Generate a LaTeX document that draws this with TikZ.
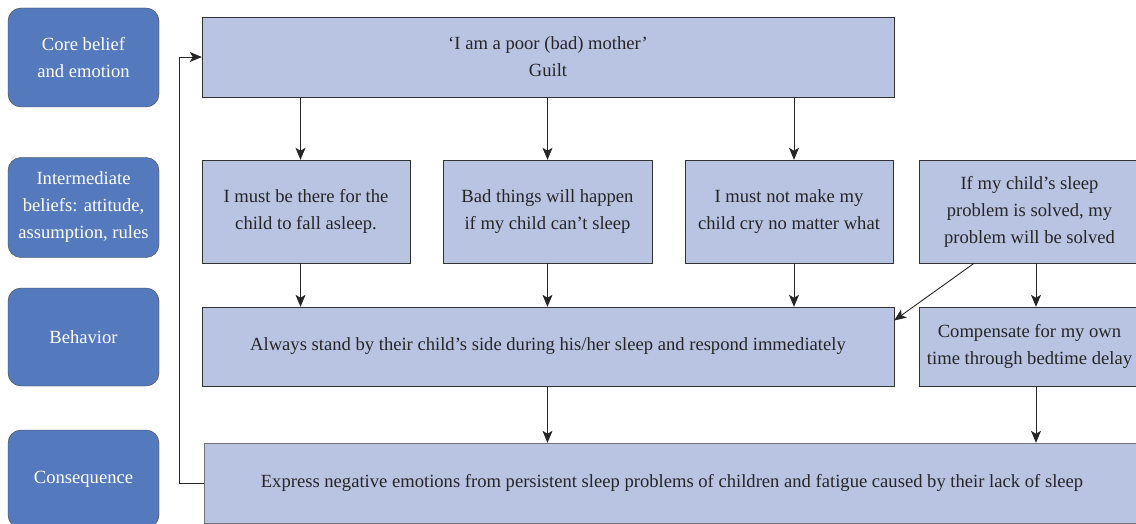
\documentclass[tikz,border=0pt]{standalone}
\usepackage{fontspec}
\setmainfont{Liberation Serif}
\usepackage{tikz}
\usetikzlibrary{positioning, arrows.meta, calc}

\definecolor{levelblue}{HTML}{5479BD}
\definecolor{boxlav}{HTML}{B9C3E2}

\begin{document}
\begin{tikzpicture}[x=1pt, y=-1pt,
level/.style={rectangle, draw=black!75, fill=levelblue, rounded corners=13pt, text=white, align=center, minimum width=151pt, minimum height=99pt, inner sep=2pt},
thought/.style={rectangle, draw=black!80, fill=boxlav, text=black!85, align=center, inner sep=2pt},
arr/.style={-{Stealth[length=12pt, width=10pt, inset=3pt]}, draw=black!85, line width=0.9pt},
font=\fontsize{18.6}{27}\selectfont]
    \useasboundingbox (0,0) rectangle (1136,524);

    % levels on the left
    \node[level] (core) at (83.5,57.5) {Core belief\\and emotion};
    \node[level, minimum height=100pt] (inter) at (83.5,207.5) {Intermediate\\beliefs: attitude,\\assumption, rules};
    \node[level, minimum height=98pt] (behav) at (83.5,337) {Behavior};
    \node[level, minimum height=98pt] (cons) at (83.5,479) {Consequence};

    % core belief
    \node[thought, minimum width=692pt, minimum height=80pt] (guilt) at (548,57) {`I am a poor (bad) mother'\\Guilt};

    % intermediate beliefs
    \node[thought, minimum width=208pt, minimum height=103pt] (there) at (306,211.5) {I must be there for the\\child to fall asleep.};
    \node[thought, minimum width=209pt, minimum height=103pt] (bad) at (547.5,211.5) {Bad things will happen\\if my child can't sleep};
    \node[thought, minimum width=208pt, minimum height=103pt] (cry) at (789,211.5) {I must not make my\\child cry no matter what};
    \node[thought, minimum width=221pt, minimum height=103pt] (solved) at (1029.5,211.5) {If my child's sleep\\problem is solved, my\\problem will be solved};

    % behavior
    \node[thought, minimum width=692pt, minimum height=79pt] (stand) at (548,346.5) {Always stand by their child's side during his/her sleep and respond immediately};
    \node[thought, minimum width=221pt, minimum height=79pt] (comp) at (1029.5,346.5) {Compensate for my own\\time through bedtime delay};

    % consequence
    \node[thought, draw=black!55, minimum width=936pt, minimum height=80pt] (neg) at (672,483) {Express negative emotions from persistent sleep problems of children and fatigue caused by their lack of sleep};

    \draw[arr] ([xshift=-5.5pt]guilt.south -| there.north) -- ([xshift=-5.5pt]there.north);
    \draw[arr] (guilt.south -| bad.north) -- (bad.north);
    \draw[arr] ([xshift=5pt]guilt.south -| cry.north) -- ([xshift=5pt]cry.north);

    \draw[arr] ([xshift=-5.5pt]there.south) -- ([xshift=-5.5pt]there.south |- stand.north);
    \draw[arr] (bad.south) -- (bad.south |- stand.north);
    \draw[arr] ([xshift=5pt]cry.south) -- ([xshift=5pt]cry.south |- stand.north);
    \draw[arr] ([xshift=6.5pt]solved.south) -- ([xshift=6.5pt]comp.north);
    \draw[arr] ($(solved.south west)!0.25!(solved.south east)$) -- ([yshift=26pt]stand.east);

    \draw[arr] (stand.south -| bad.south) -- (bad.south |- neg.north);
    \draw[arr] ([xshift=6.5pt]comp.south) -- ([xshift=6.5pt]comp.south |- neg.north);

    \draw[arr] (neg.west) -- ++(-24,0) |- (guilt.west);
\end{tikzpicture}
\end{document}
